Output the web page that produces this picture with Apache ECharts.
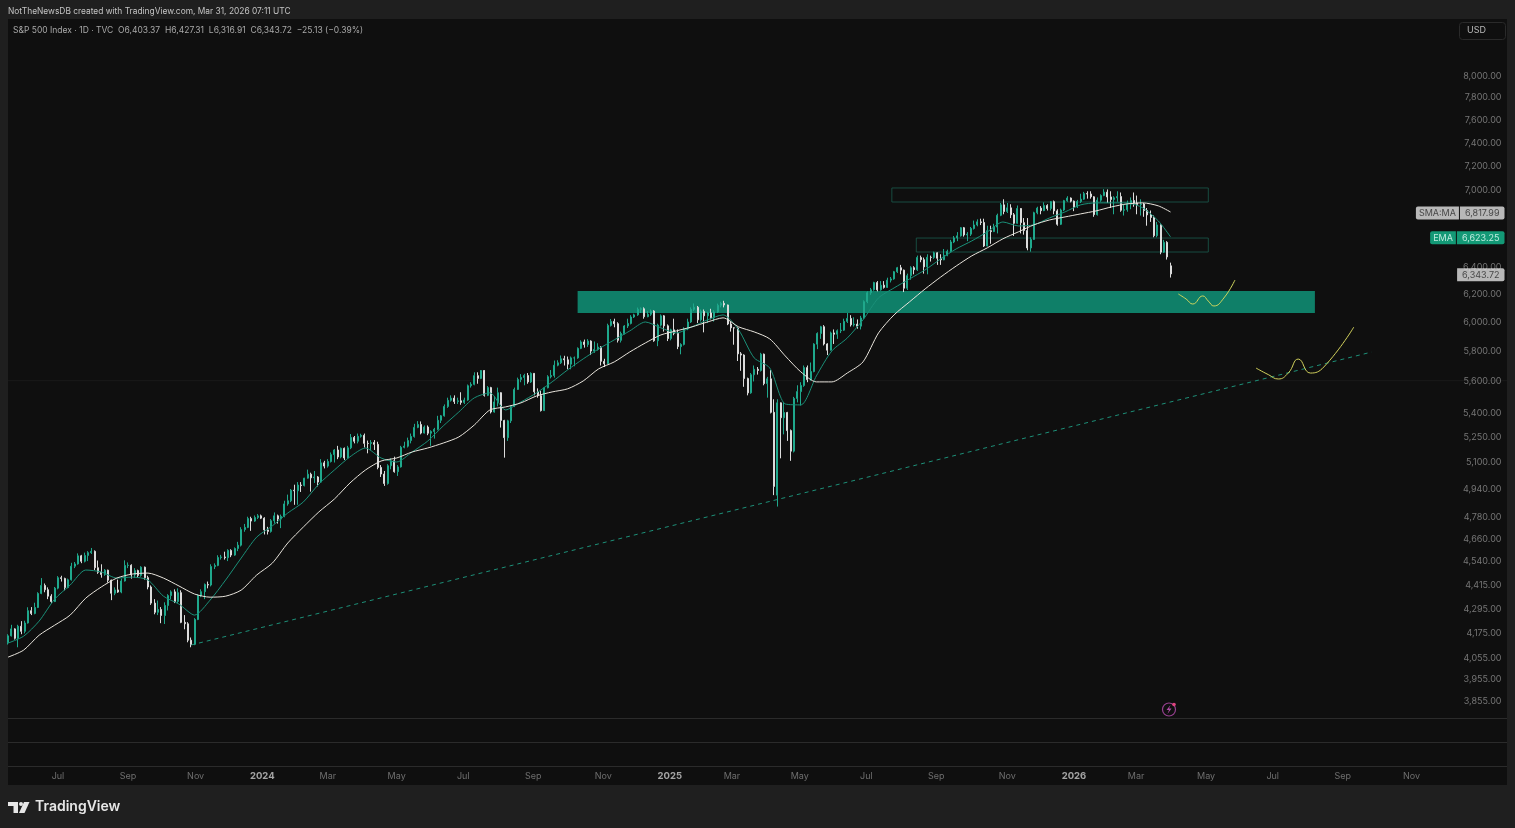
<!DOCTYPE html>
<html>
<head>
<meta charset="utf-8">
<title>S&amp;P 500 Index</title>
<script src="https://cdn.jsdelivr.net/npm/echarts@6/dist/echarts.min.js"></script>
<style>
  html, body { margin: 0; padding: 0; background: #1f1f1f; }
  #chart { width: 1515px; height: 828px; }
</style>
</head>
<body>
<div id="chart"></div>
<script>
// candles are sampled every 3 calendar days, rows are [open, close, low, high]
const firstCandle = '2023-05-17'
const candleStepDays = 3

const candles2023 = [
  [4125,4158,4116,4166],[4158,4192,4155,4212],[4192,4146,4140,4195],[4146,4205,4103,4212],[4205,4180,4166,4230],
  [4180,4221,4170,4232],[4221,4282,4218,4299],[4282,4268,4260,4300],[4268,4298,4264,4322],[4298,4369,4295,4375],
  [4369,4410,4365,4448],[4410,4388,4375,4420],[4388,4355,4340,4400],[4355,4328,4320,4365],[4328,4396,4325,4402],
  [4396,4450,4390,4458],[4450,4446,4430,4460],[4446,4399,4385,4450],[4399,4439,4395,4445],[4439,4510,4435,4528],
  [4510,4522,4500,4532],[4522,4565,4518,4578],[4565,4536,4526,4570],[4536,4567,4530,4582],[4567,4582,4537,4590],
  [4582,4589,4575,4607],[4589,4502,4490,4594],[4502,4478,4470,4540],[4478,4467,4450,4520],[4467,4489,4460,4495],
  [4489,4437,4425,4492],[4437,4370,4335,4440],[4370,4387,4360,4400],[4387,4376,4372,4440],[4376,4433,4370,4445],
  [4433,4514,4430,4541],[4514,4515,4500,4530],[4515,4465,4445,4520],[4465,4487,4450,4500],[4487,4462,4450,4492],
  [4462,4505,4455,4510],[4505,4450,4440,4508],[4450,4402,4390,4460],[4402,4320,4311,4410],[4320,4274,4264,4340],
  [4274,4288,4260,4333],[4288,4258,4220,4300],[4258,4308,4216,4324],[4308,4358,4283,4365],[4358,4377,4340,4385],
  [4377,4328,4320,4390],[4328,4373,4320,4395],[4373,4224,4220,4385],[4224,4217,4190,4260],[4217,4137,4127,4225],
  [4137,4117,4103,4150],[4117,4238,4113,4245],[4238,4358,4235,4365],[4358,4378,4350,4390],[4378,4415,4340,4420],
  [4415,4412,4395,4430],[4412,4508,4405,4520],[4508,4514,4495,4525],[4514,4556,4510,4568],[4556,4559,4545,4570],
  [4559,4555,4545,4587],[4555,4594,4537,4600],[4594,4569,4558,4600],[4569,4604,4565,4610],[4604,4622,4590,4640],
  [4622,4707,4615,4720],[4707,4719,4695,4738],[4719,4768,4715,4778],[4768,4754,4700,4778],[4754,4774,4750,4785],
  [4774,4783,4765,4793],[4783,4770,4765,4790]
]
const candles2024 = [
  [4770,4705,4680,4775],[4705,4697,4680,4722],[4697,4756,4690,4765],[4756,4783,4740,4802],[4783,4765,4740,4790],
  [4765,4780,4715,4790],[4780,4850,4775,4868],[4850,4868,4840,4903],[4868,4928,4860,4935],[4928,4925,4845,4960],
  [4925,4958,4845,4975],[4958,4955,4918,4975],[4955,4998,4950,5000],[4998,5021,4995,5048],[5021,5000,4920,5030],
  [5000,5005,4970,5040],[5005,4975,4950,5010],[4975,5088,4970,5110],[5088,5069,5055,5100],[5069,5096,5060,5110],
  [5096,5137,5090,5150],[5137,5165,5090,5170],[5165,5123,5110,5190],[5123,5175,5115,5180],[5175,5117,5105,5180],
  [5117,5178,5115,5190],[5178,5241,5170,5262],[5241,5218,5205,5250],[5218,5248,5205,5265],[5248,5254,5240,5264],
  [5254,5205,5180,5265],[5205,5204,5145,5222],[5204,5210,5165,5225],[5210,5199,5165,5225],[5199,5061,5050,5215],
  [5061,5022,5005,5075],[5022,4967,4953,5040],[4967,5071,4960,5080],[5071,5100,5050,5115],[5100,5036,5030,5125],
  [5036,5064,5011,5075],[5064,5181,5060,5190],[5181,5188,5175,5215],[5188,5222,5180,5240],[5222,5247,5205,5265],
  [5247,5303,5240,5325],[5303,5321,5298,5342],[5321,5268,5260,5340],[5268,5305,5265,5315],[5305,5267,5255,5315],
  [5267,5278,5190,5285],[5278,5291,5234,5300],[5291,5347,5285,5375],[5347,5375,5330,5380],[5375,5434,5370,5447],
  [5434,5473,5425,5490],[5473,5487,5465,5505],[5487,5465,5450,5505],[5465,5470,5450,5490],[5470,5460,5445,5525],
  [5460,5475,5450,5490],[5475,5567,5470,5575],[5567,5576,5555,5590],[5576,5633,5570,5655],[5633,5615,5580,5655],
  [5615,5667,5610,5670],[5667,5505,5497,5670],[5505,5555,5500,5565],[5555,5399,5390,5560],[5399,5463,5395,5500],
  [5463,5522,5435,5555],[5522,5346,5302,5525],[5346,5240,5119,5350],[5240,5344,5220,5350],[5344,5434,5330,5440],
  [5434,5543,5430,5555],[5543,5608,5540,5620],[5608,5621,5590,5643],[5621,5634,5570,5645],[5634,5592,5580,5650],
  [5592,5648,5585,5655],[5648,5528,5505,5650],[5528,5503,5490,5550],[5503,5408,5402,5535],[5408,5554,5405,5560],
  [5554,5626,5550,5636],[5626,5634,5615,5670],[5634,5702,5620,5733],[5702,5718,5695,5735],[5718,5745,5710,5767],
  [5745,5738,5700,5765],[5738,5709,5675,5760],[5709,5751,5675,5760],[5751,5751,5695,5760],[5751,5815,5745,5822],
  [5815,5859,5810,5870],[5859,5841,5820,5875],[5841,5865,5825,5878],[5865,5797,5770,5870],[5797,5808,5785,5862],
  [5808,5824,5800,5850],[5824,5728,5700,5830],[5728,5712,5690,5745],[5712,5973,5710,5985],[5973,6001,5965,6018],
  [6001,5985,5960,6020],[5985,5870,5855,5995],[5870,5917,5855,5930],[5917,5969,5910,5975],[5969,5987,5955,6020],
  [5987,6032,5980,6045],[6032,6047,6025,6055],[6047,6087,6040,6099],[6087,6090,6060,6100],[6090,6034,6020,6100],
  [6034,6051,6030,6075],[6051,6074,6040,6085],[6074,5867,5860,6080],[5867,5975,5830,5985],[5975,6040,5965,6050],
  [6040,5970,5930,6045],[5970,5882,5865,5980]
]
const candles2025 = [
  [5882,5942,5870,5950],[5942,5918,5905,6020],[5918,5827,5810,5945],[5827,5842,5775,5850],[5842,5950,5835,5960],
  [5950,5997,5940,6020],[5997,6086,5990,6100],[6086,6101,6075,6128],[6101,6012,5990,6110],[6012,6071,6000,6085],
  [6071,6040,5925,6085],[6040,6061,5990,6070],[6061,6026,6015,6090],[6026,6068,6000,6080],[6068,6115,6060,6127],
  [6115,6129,6100,6140],[6129,6117,6100,6147],[6117,5983,5975,6120],[5983,5956,5930,6000],[5956,5955,5840,5960],
  [5955,5778,5730,5960],[5778,5770,5665,5790],[5770,5614,5560,5775],[5614,5521,5505,5620],[5521,5639,5515,5650],
  [5639,5675,5595,5700],[5675,5667,5640,5690],[5667,5776,5660,5785],[5776,5581,5570,5780],[5581,5612,5490,5625],
  [5612,5397,5390,5670],[5397,4950,4900,5480],[4900,5457,4835,5480],[5457,5363,5115,5460],[5363,5396,5260,5460],
  [5396,5283,5220,5400],[5283,5158,5100,5290],[5158,5485,5150,5495],[5485,5529,5460,5570],[5529,5569,5440,5590],
  [5569,5686,5560,5700],[5686,5607,5590,5700],[5607,5660,5600,5720],[5660,5844,5655,5850],[5844,5917,5810,5925],
  [5917,5964,5880,5970],[5964,5845,5835,5975],[5845,5803,5770,5850],[5803,5921,5800,5930],[5921,5912,5845,5945],
  [5912,5936,5880,5945],[5936,5940,5920,5990],[5940,6001,5935,6020],[6001,6022,5990,6060],[6022,5977,5965,6045],
  [5977,5982,5965,6030],[5982,5968,5950,6015],[5968,6025,5945,6040],[6025,6141,6020,6150],[6141,6205,6130,6215],
  [6205,6227,6190,6240],[6227,6279,6220,6285],[6279,6226,6215,6290],[6226,6260,6220,6290],[6260,6244,6235,6290],
  [6244,6297,6240,6315],[6297,6306,6280,6320],[6306,6359,6300,6365],[6359,6389,6350,6395],[6389,6371,6340,6410],
  [6371,6238,6210,6375],[6238,6330,6225,6345],[6330,6389,6300,6400],[6389,6374,6340,6400],[6374,6466,6365,6480],
  [6466,6449,6430,6480],[6449,6395,6345,6465],[6395,6467,6340,6490],[6467,6466,6435,6480],[6466,6501,6455,6510],
  [6501,6460,6410,6505],[6460,6448,6410,6490],[6448,6482,6445,6530],[6482,6512,6475,6525],[6512,6584,6505,6600],
  [6584,6615,6575,6630],[6615,6631,6590,6660],[6631,6694,6625,6700],[6694,6638,6625,6700],[6638,6644,6590,6660],
  [6644,6688,6630,6700],[6688,6716,6680,6750],[6716,6740,6705,6760],[6740,6735,6715,6765],[6735,6553,6545,6765],
  [6553,6671,6550,6710],[6671,6664,6570,6710],[6664,6699,6660,6725],[6699,6792,6650,6805],[6792,6875,6785,6890],
  [6875,6822,6800,6920],[6822,6851,6810,6890],[6851,6796,6770,6880],[6796,6729,6630,6810],[6729,6846,6725,6870],
  [6846,6734,6650,6850],[6734,6672,6640,6770],[6672,6538,6520,6770],[6538,6603,6510,6620],[6603,6812,6600,6820],
  [6812,6849,6800,6860],[6849,6829,6800,6865],[6829,6870,6825,6895],[6870,6846,6830,6880],[6846,6901,6830,6905],
  [6901,6827,6800,6910],[6827,6721,6710,6840],[6721,6834,6715,6845],[6834,6909,6825,6915],[6909,6930,6900,6945],
  [6930,6905,6895,6935]
]
const candles2026 = [
  [6905,6858,6825,6910],[6858,6902,6850,6915],[6902,6921,6890,6965],[6921,6966,6915,6980],[6966,6963,6925,6985],
  [6963,6940,6925,6985],[6940,6797,6780,6945],[6797,6913,6790,6935],[6913,6950,6900,6960],[6950,6978,6945,7002],
  [6978,6939,6890,7000],[6939,6918,6850,6985],[6918,6932,6800,6945],[6932,6942,6900,6985],[6942,6832,6820,6975],
  [6832,6836,6790,6880],[6836,6881,6820,6910],[6881,6910,6840,6935],[6910,6890,6860,6975],[6890,6878,6800,6950],
  [6878,6882,6790,6920],[6882,6830,6780,6890],[6830,6795,6710,6850],[6795,6775,6740,6830],[6775,6632,6620,6790],
  [6632,6716,6620,6740],[6716,6506,6490,6720],[6506,6581,6500,6600],[6581,6470,6450,6590],[6403,6343,6316,6427]
]

// moving averages, one reading every 14 days plus the last bar
const maStart = '2023-05-17'
const maStepDays = 14
const maLast = '2026-03-29'
const smaValues = [
  4056,4089,4161,4210,4260,4345,4402,4448,4469,4474,4448,4407,4366,4350,4355,4386,4464,4526,4634,4721,
  4805,4878,4970,5046,5099,5117,5153,5177,5207,5244,5318,5412,5431,5457,5501,5527,5547,5598,5678,5724,
  5791,5852,5907,5935,5963,5997,6026,5963,5928,5880,5764,5658,5592,5592,5651,5724,5921,6047,6140,6233,
  6320,6402,6478,6539,6608,6662,6717,6755,6779,6803,6827,6859,6883,6891,6867,6818
]
const emaValues = [
  4123,4156,4230,4340,4412,4490,4480,4448,4453,4438,4355,4315,4260,4335,4438,4553,4666,4727,4799,4861,
  4964,5046,5124,5177,5117,5093,5153,5219,5312,5399,5489,5521,5412,5463,5521,5592,5671,5744,5812,5873,
  5935,5997,5956,5921,5963,6012,6047,5942,5751,5684,5450,5444,5631,5798,5887,6012,6168,6240,6306,6373,
  6455,6531,6592,6662,6739,6708,6717,6771,6819,6875,6891,6891,6891,6851,6747,6623
]

// drawn zones: start, end, low, high
const zoneDemand = ['2024-10-11', '2026-08-06', 6060, 6218]
const zoneUpper = ['2025-07-21', '2026-05-02', 6898, 7012]
const zoneLower = ['2025-08-12', '2026-05-02', 6507, 6614]

const trendDates = ['2023-10-29', '2026-09-26']
const trendValues = [4114, 5790]

const sketchOneDates = ['2026-04-05', '2026-04-12', '2026-04-18', '2026-04-27', '2026-05-02', '2026-05-07', '2026-05-16', '2026-05-26']
const sketchOneValues = [6196, 6160, 6124, 6182, 6145, 6110, 6167, 6298]
const sketchTwoDates = ['2026-06-14', '2026-06-25', '2026-07-04', '2026-07-13', '2026-07-22', '2026-08-02', '2026-08-14', '2026-09-10']
const sketchTwoValues = [5683, 5640, 5611, 5650, 5743, 5650, 5690, 5961]

const priceTicks = [8000, 7800, 7600, 7400, 7200, 7000, 6400, 6200, 6000, 5800, 5600, 5400, 5250, 5100, 4940, 4780, 4660, 4540, 4415, 4295, 4175, 4055, 3955, 3855]
// the time scale counts bars, so its labels sit a little off the calendar month start
const monthTicks = ['2023-07-01', '2023-09-02', '2023-11-02', '2024-01-01', '2024-02-29', '2024-05-01', '2024-06-30', '2024-09-01', '2024-11-03', '2025-01-02', '2025-02-27', '2025-04-29', '2025-06-28', '2025-08-30', '2025-11-02', '2026-01-01', '2026-02-26', '2026-04-30', '2026-06-29', '2026-08-31', '2026-11-01']
const monthLabels = ['Jul', 'Sep', 'Nov', '2024', 'Mar', 'May', 'Jul', 'Sep', 'Nov', '2025', 'Mar', 'May', 'Jul', 'Sep', 'Nov', '2026', 'Mar', 'May', 'Jul', 'Sep', 'Nov']

const smaLast = 6817.99
const emaLast = 6623.25
const closeLast = 6343.72

const axisStart = '2023-05-17'
const axisEnd = '2027-01-26'
const axisMin = 3778
const axisMax = 8540
const DAY = 86400000
const FONT = 'Inter, "Noto Sans", sans-serif'

const fmt = v => v.toLocaleString('en-US', { minimumFractionDigits: 2, maximumFractionDigits: 2 })

const allCandles = [...candles2023, ...candles2024, ...candles2025, ...candles2026]
const candleData = allCandles.map((row, i) => [+new Date(firstCandle) + i * candleStepDays * DAY, ...row])
const maDates = smaValues.map((_, i) => i === smaValues.length - 1 ? +new Date(maLast) : +new Date(maStart) + i * maStepDays * DAY)
const zip = (xs, ys) => xs.map((x, i) => [x, ys[i]])

const zones = [zoneDemand, zoneUpper, zoneLower].map(z => [+new Date(z[0]), +new Date(z[1]), z[2], z[3]])

const lineBase = { type: 'line', symbol: 'none', silent: true, animation: false }

const chart = echarts.init(document.getElementById('chart'))
chart.setOption({
  animation: false,
  backgroundColor: '#1f1f1f',
  grid: { left: 8, right: 8, top: 19, bottom: 110 },
  xAxis: {
    type: 'time',
    min: axisStart,
    max: axisEnd,
    axisLine: { show: false },
    axisTick: { show: false },
    splitLine: { show: false },
    axisLabel: { show: false }
  },
  yAxis: {
    type: 'log',
    min: axisMin,
    max: axisMax,
    position: 'right',
    axisLine: { show: false },
    axisTick: { show: false },
    axisLabel: { show: false },
    splitLine: { show: false }
  },
  series: [
    {
      // green zone and the two outlined boxes
      type: 'custom',
      silent: true,
      z: 1,
      data: zones,
      dimensions: ['start', 'end', 'low', 'high'],
      encode: { x: [0, 1], y: [2, 3] },
      renderItem: (params, api) => {
        const a = api.coord([api.value(0), api.value(3)])
        const b = api.coord([api.value(1), api.value(2)])
        const filled = params.dataIndex === 0
        return {
          type: 'rect',
          shape: { x: a[0], y: a[1], width: b[0] - a[0], height: b[1] - a[1] },
          style: filled ? { fill: '#0f7f68' } : { fill: 'transparent', stroke: '#1a5c4e', lineWidth: 0.8 }
        }
      }
    },
    { ...lineBase, z: 1, data: [[axisStart, 5600], [axisEnd, 5600]], lineStyle: { color: '#191919', width: 1 } },
    { ...lineBase, z: 2, data: zip(trendDates, trendValues), lineStyle: { color: '#1d8f78', width: 1, type: [4, 4] } },
    {
      type: 'candlestick',
      z: 3,
      silent: true,
      barWidth: 1.5,
      data: candleData,
      itemStyle: { color: '#1fa88c', color0: '#dcdcdc', borderColor: '#1fa88c', borderColor0: '#dcdcdc', borderWidth: 1 }
    },
    { ...lineBase, z: 4, data: zip(maDates, emaValues), smooth: 0.25, lineStyle: { color: '#1a8f78', width: 1 } },
    { ...lineBase, z: 4, data: zip(maDates, smaValues), smooth: 0.25, lineStyle: { color: '#e8e4dc', width: 1 } },
    { ...lineBase, z: 5, data: zip(sketchOneDates, sketchOneValues), smooth: 0.5, lineStyle: { color: '#cfd65e', width: 1 } },
    { ...lineBase, z: 5, data: zip(sketchTwoDates, sketchTwoValues), smooth: 0.5, lineStyle: { color: '#d2d15c', width: 1 } },
    {
      // time scale labels, hung under the price pane
      type: 'scatter',
      silent: true,
      clip: false,
      z: 6,
      symbolSize: 1,
      itemStyle: { color: 'transparent' },
      data: monthTicks.map(d => [d, axisMin]),
      label: {
        show: true,
        position: 'bottom',
        distance: 53,
        color: '#868686',
        fontFamily: FONT,
        fontSize: 9,
        formatter: p => {
          const text = monthLabels[p.dataIndex]
          return /^\d/.test(text) ? '{year|' + text + '}' : text
        },
        rich: { year: { color: '#c9c9c9', fontFamily: FONT, fontSize: 9.5, fontWeight: 'bold' } }
      }
    },
    {
      // price scale labels
      type: 'scatter',
      silent: true,
      clip: false,
      z: 6,
      symbolSize: 1,
      itemStyle: { color: 'transparent' },
      data: priceTicks.map(v => [axisEnd, v]),
      label: {
        show: true,
        position: 'left',
        distance: 5,
        offset: [0, 1],
        color: '#8e8e8e',
        fontFamily: FONT,
        fontSize: 9,
        formatter: p => fmt(p.value[1])
      }
    },
    {
      // last value tags
      type: 'scatter',
      silent: true,
      clip: false,
      z: 7,
      zlevel: 1,
      symbolSize: 1,
      itemStyle: { color: 'transparent' },
      data: [[axisEnd, smaLast], [axisEnd, emaLast], [axisEnd, closeLast]],
      label: {
        show: true,
        position: 'left',
        distance: 2,
        offset: [0, 1],
        fontFamily: FONT,
        fontSize: 9,
        formatter: p => {
          const text = fmt(p.value[1])
          if (p.dataIndex === 0) return '{sn|SMA:MA}{gap|}{sv|' + text + '}'
          if (p.dataIndex === 1) return '{en|EMA}{gap|}{ev|' + text + '}'
          return '{sv|' + text + '}'
        },
        rich: {
          gap: { width: 1, height: 12 },
          sn: { backgroundColor: '#e2e2e2', color: '#2a2a2a', fontFamily: FONT, fontSize: 9, padding: [2, 3, 2, 3], borderRadius: [2, 0, 0, 2] },
          sv: { backgroundColor: '#e2e2e2', color: '#2a2a2a', fontFamily: FONT, fontSize: 9, padding: [2, 5, 2, 5], borderRadius: [0, 2, 2, 0] },
          en: { backgroundColor: '#14bb90', color: '#eafff9', fontFamily: FONT, fontSize: 9, padding: [2, 3, 2, 3], borderRadius: [2, 0, 0, 2] },
          ev: { backgroundColor: '#14bb90', color: '#eafff9', fontFamily: FONT, fontSize: 9, padding: [2, 5, 2, 5], borderRadius: [0, 2, 2, 0] }
        }
      }
    }
  ],
  graphic: [
    // panel behind the plot
    { type: 'rect', z: -100, silent: true, shape: { x: 8, y: 19, width: 1499, height: 766 }, style: { fill: '#0f0f0f' } },
    // empty panes under the price pane
    { type: 'rect', z: 10, silent: true, shape: { x: 8, y: 718, width: 1499, height: 1 }, style: { fill: '#2b2b2b' } },
    { type: 'rect', z: 10, silent: true, shape: { x: 8, y: 742, width: 1499, height: 1 }, style: { fill: '#2b2b2b' } },
    { type: 'rect', z: 10, silent: true, shape: { x: 8, y: 766, width: 1499, height: 1 }, style: { fill: '#2b2b2b' } },
    { type: 'text', z: 10, silent: true, x: 8, y: 7, style: { text: 'NotTheNewsDB created with TradingView.com, Mar 31, 2026 07:11 UTC', fill: '#c4c4c4', font: '8.4px ' + FONT } },
    { type: 'text', z: 10, silent: true, x: 13, y: 26, style: { text: 'S&P 500 Index · 1D · TVC  O6,403.37  H6,427.31  L6,316.91  C6,343.72  −25.13 (−0.39%)', fill: '#a8a8a8', font: '8.5px ' + FONT } },
    { type: 'rect', z: 10, silent: true, shape: { x: 1459.5, y: 22.5, width: 46, height: 17, r: 3 }, style: { fill: '#0f0f0f', stroke: '#2a2a2a', lineWidth: 1 } },
    { type: 'text', z: 11, silent: true, x: 1467, y: 26, style: { text: 'USD', fill: '#b8b8b8', font: '9px ' + FONT } },
    // lightning badge
    { type: 'circle', z: 10, silent: true, shape: { cx: 1169, cy: 709.5, r: 6.5 }, style: { fill: 'transparent', stroke: '#96408f', lineWidth: 1.2 } },
    { type: 'polygon', z: 11, silent: true, shape: { points: [[1170.5, 705], [1166.5, 710], [1169, 710], [1167.5, 714], [1171.5, 708.5], [1169, 708.5]] }, style: { fill: '#b04aa6' } },
    { type: 'circle', z: 11, silent: true, shape: { cx: 1174, cy: 704.5, r: 1.8 }, style: { fill: '#e0457f' } },
    // TradingView mark and name
    { type: 'polygon', z: 10, silent: true, shape: { points: [[8, 802], [18, 802], [18, 813], [13.5, 813], [13.5, 806], [8, 806]] }, style: { fill: '#e6e6e6' } },
    { type: 'circle', z: 10, silent: true, shape: { cx: 21, cy: 804, r: 2 }, style: { fill: '#e6e6e6' } },
    { type: 'polygon', z: 10, silent: true, shape: { points: [[24, 802], [29.5, 802], [24.5, 813], [19, 813]] }, style: { fill: '#e6e6e6' } },
    { type: 'text', z: 10, silent: true, x: 35, y: 800, style: { text: 'TradingView', fill: '#e6e6e6', font: '600 14px ' + FONT } }
  ]
})

window.addEventListener('resize', () => chart.resize())
</script>
</body>
</html>
